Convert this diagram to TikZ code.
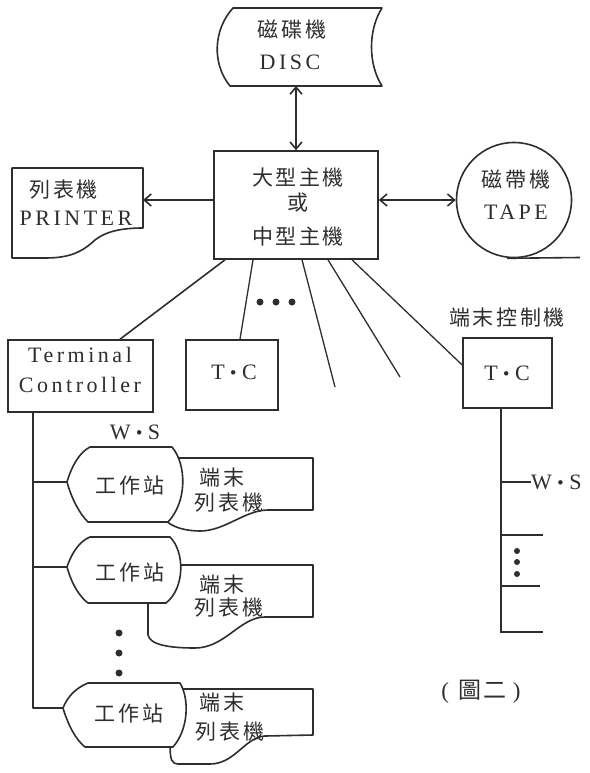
\documentclass[tikz,border=0pt]{standalone}
\usepackage{fontspec}
\setmainfont{Liberation Serif}
\newfontfamily\cjk[LetterSpace=12]{Noto Sans CJK TC}
\newfontfamily\lat[LetterSpace=16]{Liberation Serif}
\usetikzlibrary{arrows.meta}
\definecolor{ink}{HTML}{2E2E2E}
\newcommand\mydot{\hspace{4pt}\raisebox{.2em}{\scalebox{1.7}{.}}\hspace{4pt}}
\begin{document}
\begin{tikzpicture}[x=1pt,y=-1pt,
  ln/.style={draw=ink, line width=1.6pt, line join=round},
  thinl/.style={draw=ink, line width=1.3pt},
  box/.style={draw=ink, line width=1.6pt, rectangle, inner sep=0pt},
  arr/.style={ln, {Straight Barb[length=7pt,width=12pt]}-{Straight Barb[length=7pt,width=12pt]}},
  rarr/.style={ln, -{Straight Barb[length=7pt,width=12pt]}},
  ct/.style={font=\cjk\fontsize{21}{24}\selectfont, text=ink, inner sep=0pt},
  lt/.style={font=\lat\fontsize{22}{26}\selectfont, text=ink, inner sep=0pt},
  dotf/.style={fill=ink, circle, inner sep=0pt, minimum size=7pt},
]
\fill[white] (0,0) rectangle (589,773);
\path[use as bounding box] (0,0) rectangle (589,773);

% DISC
\draw[ln] (233,8) -- (382,8) .. controls (368,30) and (368,64) .. (382,86) -- (230,86) .. controls (212,64) and (213,30) .. (233,8) -- cycle;
\node[ct] (disct) at (292,30) {磁碟機};
\node[lt] (discl) at (290,62) {DISC};
\coordinate (discb) at (296,86);

% Main frame
\node[box, minimum width=164pt, minimum height=108pt] (main) at (296,205) {};
\node[ct] (m1) at (298,178) {大型主機};
\node[ct] (m2) at (298,203) {或};
\node[ct] (m3) at (298,237) {中型主機};
\draw[arr] (discb) -- (main.north);

% Printer
\draw[ln] (12,168) -- (143,168) -- (143,228) .. controls (120,228) and (105,232) .. (95,240) .. controls (82,252) and (70,258) .. (45,258) -- (12,258) -- cycle;
\node[ct] (pt1) at (64,190) {列表機};
\node[lt] (pt2) at (76,218) {PRINTER};
\coordinate (prte) at (143,200);
\draw[rarr] (main.west |- prte) -- (prte);

% Tape
\node[draw=ink, line width=1.6pt, circle, minimum size=115pt, inner sep=0pt] (tape) at (514,200) {};
\coordinate (tapel) at (580,257.5);
\draw[ln] ([xshift=-7pt]tape.south) -- (tapel);
\node[ct] (tt1) at (516,180) {磁帶機};
\node[lt] (tt2) at (516,212) {TAPE};
\draw[arr] (main.east |- tape.west) -- (tape.west);

% Terminal controllers
\node[box, minimum width=145pt, minimum height=72pt] (tcl) at (80.5,376) {};
\node[lt] (tcl1) at (80,355) {Terminal};
\node[lt] (tcl2) at (80,385) {Controller};
\node[box, minimum width=92pt, minimum height=70pt] (tc1) at (232,375) {};
\node[lt] (tc1t) at (234,372) {T\mydot C};
\node[box, minimum width=89pt, minimum height=70pt] (tc2) at (507.5,373) {};
\node[lt] (tc2t) at (507,373) {T\mydot C};
\node[ct] (tclab) at (507,317) {端末控制機};

% lines from main
\draw[ln] ([xshift=-71pt]main.south) -- ([xshift=39.5pt]tcl.north);
\draw[thinl] ([xshift=-43pt]main.south) -- ([xshift=8pt]tc1.north);
\coordinate (f1) at (335,387);
\coordinate (f2) at (400,377);
\draw[thinl] ([xshift=6pt]main.south) -- (f1);
\draw[thinl] ([xshift=32pt]main.south) -- (f2);
\draw[thinl] ([xshift=56pt]main.south) -- ([yshift=8pt]tc2.west);
\node[dotf] (d1) at (260,302) {};
\node[dotf] (d2) at (276,302) {};
\node[dotf] (d3) at (292,302) {};

% W.S label
\node[lt] (wsl) at (135,432) {W\mydot S};

% Printers (behind workstations)
\draw[ln] (160,458) -- (313,458) -- (313,510) -- (268,510) .. controls (245,510) and (225,531) .. (200,531) .. controls (185,531) and (172,527) .. (165,520);
\draw[ln] (165,565) -- (313,565) -- (313,617) -- (265,617) .. controls (240,617) and (225,648) .. (195,648) .. controls (170,648) and (150,645) .. (148,635) -- (148,600);
\draw[ln] (175,689) -- (313,689) -- (313,735) -- (265,736) .. controls (245,737) and (235,764) .. (210,764) -- (178,764) .. controls (172,764) and (170,760) .. (170,745);

% Workstations
\coordinate (w1tip) at (67,482);
\coordinate (w2tip) at (67,567);
\coordinate (w3tip) at (63,708);
\draw[ln, fill=white] (w1tip) .. controls (72,465) and (80,452) .. (90,447) -- (172,447) .. controls (187,465) and (187,502) .. (168,522) -- (88,522) .. controls (80,514) and (72,500) .. (w1tip) -- cycle;
\draw[ln, fill=white] (w2tip) .. controls (72,552) and (80,541) .. (90,537) -- (170,537) .. controls (185,552) and (185,588) .. (166,603) -- (88,603) .. controls (80,597) and (72,585) .. (w2tip) -- cycle;
\draw[ln, fill=white] (w3tip) .. controls (68,695) and (78,687) .. (88,683) -- (180,683) .. controls (190,700) and (188,730) .. (173,747) -- (85,747) .. controls (76,740) and (68,725) .. (w3tip) -- cycle;
\node[ct] (w1t) at (130,485) {工作站};
\node[ct] (w2t) at (130,572) {工作站};
\node[ct] (w3t) at (129,713) {工作站};
\node[ct] (p1a) at (222,478) {端末};
\node[ct] (p1b) at (229,503) {列表機};
\node[ct] (p2a) at (222,585) {端末};
\node[ct] (p2b) at (229,608) {列表機};
\node[ct] (p3a) at (222,703) {端末};
\node[ct] (p3b) at (230,732) {列表機};

% left bus
\coordinate (lb) at (33,412);
\draw[ln] ([xshift=-47.5pt]tcl.south) |- (w3tip);
\draw[ln] (w1tip -| lb) -- (w1tip);
\draw[ln] (w2tip -| lb) -- (w2tip);
\node[dotf] (v1) at (119,633) {};
\node[dotf] (v2) at (119,653) {};
\node[dotf] (v3) at (119,673) {};

% right bus
\coordinate (rb) at (501,633);
\draw[ln] ([xshift=-6.5pt]tc2.south) -- (rb);
\node[lt, anchor=west] (wsr) at (531,482) {W\mydot S};
\draw[ln] (wsr.west -| rb) -- (wsr.west);
\coordinate (r1) at (543,535);
\coordinate (r2) at (540,586);
\coordinate (r3) at (543,632);
\draw[ln] (r1 -| rb) -- (r1);
\draw[ln] (r2 -| rb) -- (r2);
\draw[ln] (r3 -| rb) -- (r3);
\node[dotf, minimum size=6pt] (rd1) at (517,551) {};
\node[dotf, minimum size=6pt] (rd2) at (517,562) {};
\node[dotf, minimum size=6pt] (rd3) at (517,574) {};

% caption
\node[text=ink, inner sep=0pt, font=\fontsize{23}{26}\selectfont] (cap) at (481,692) {(\hspace{9pt}{\cjk 圖二}\hspace{6pt})};
\end{tikzpicture}
\end{document}
